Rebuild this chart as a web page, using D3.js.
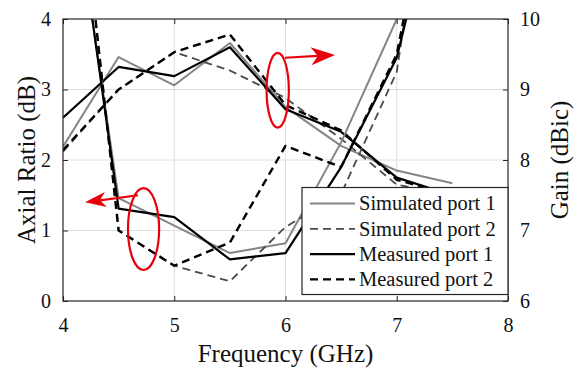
<!DOCTYPE html>
<html>
<head>
<meta charset="utf-8">
<script src="https://cdn.jsdelivr.net/npm/d3@7"></script>
<style>
  html, body { margin: 0; padding: 0; background: #fff; }
  svg { display: block; }
  svg text { font-family: "Liberation Serif", "DejaVu Serif", serif !important; fill: #111; }
</style>
</head>
<body>
<svg id="chart" width="579" height="369"></svg>
<script>
// Frequency samples (GHz); null means the series has no sample there
const freqGHz = [4.0, 4.5, 5.0, 5.5, 6.0, 6.5, 7.0, 7.1, 7.5];

// Axial ratio (dB), left axis
const arSimPort1  = [6.8, 1.46, 1.07, 0.68, 0.82, 2.25, 4.0, null, null];
const arSimPort2  = [8.2, 1.0, 0.5, 0.28, 1.05, 1.52, 3.25, 4.3, null];
const arMeasPort1 = [7.0, 1.31, 1.19, 0.59, 0.68, 1.9, 3.45, 4.1, null];
const arMeasPort2 = [8.2, 1.0, 0.5, 0.83, 2.2, 1.9, 3.5, 4.3, null];

// Gain (dBic), right axis
const gainSimPort1  = [8.19, 9.46, 9.06, 9.66, 8.75, 8.2, 7.85, null, 7.67];
const gainSimPort2  = [8.12, 9.0, 9.53, 9.27, 8.88, 8.3, 7.65, null, 7.5];
const gainMeasPort1 = [8.6, 9.32, 9.19, 9.6, 8.72, 8.4, 7.75, null, 7.5];
const gainMeasPort2 = [8.14, 9.0, 9.53, 9.78, 8.78, 8.42, 7.72, null, 7.5];

const seriesNames = ["Simulated port 1", "Simulated port 2", "Measured port 1", "Measured port 2"];
const xTicks = [4, 5, 6, 7, 8];
const arTicks = [0, 1, 2, 3, 4];
const gainTicks = [6, 7, 8, 9, 10];

// Line styles per series
const styles = [
  { color: "#858585", width: 2.0, dash: null },
  { color: "#4a4a4a", width: 1.8, dash: "8,5" },
  { color: "#000000", width: 2.2, dash: null },
  { color: "#000000", width: 2.4, dash: "8,5" }
];

const W = 579, H = 369;
const margin = { left: 63, right: 71, top: 19, bottom: 68 };
const x0 = margin.left, x1 = W - margin.right, y0 = H - margin.bottom, y1 = margin.top;
const serif = '"Liberation Serif", "DejaVu Serif", serif';

const svg = d3.select("#chart");
const x = d3.scaleLinear().domain([4, 8]).range([x0, x1]);
const yAR = d3.scaleLinear().domain([0, 4]).range([y0, y1]);
const yGain = d3.scaleLinear().domain([6, 10]).range([y0, y1]);

// grid
const grid = svg.append("g").attr("stroke", "#dedede").attr("stroke-width", 1);
xTicks.slice(1, -1).forEach(t => grid.append("line")
  .attr("x1", x(t)).attr("x2", x(t)).attr("y1", y0).attr("y2", y1));
arTicks.slice(1, -1).forEach(t => grid.append("line")
  .attr("x1", x0).attr("x2", x1).attr("y1", yAR(t)).attr("y2", yAR(t)));

// clip for data lines
svg.append("defs").append("clipPath").attr("id", "plotClip")
  .append("rect").attr("x", x0).attr("y", y1).attr("width", x1 - x0).attr("height", y0 - y1);

function points(vals) {
  return freqGHz.map((f, i) => [f, vals[i]]).filter(d => d[1] !== null);
}

const plot = svg.append("g").attr("clip-path", "url(#plotClip)");
const gainSets = [gainSimPort1, gainSimPort2, gainMeasPort1, gainMeasPort2];
const arSets = [arSimPort1, arSimPort2, arMeasPort1, arMeasPort2];

function drawSeries(sets, yScale) {
  const line = d3.line().x(d => x(d[0])).y(d => yScale(d[1]));
  sets.forEach((vals, i) => {
    const s = styles[i];
    plot.append("path")
      .datum(points(vals))
      .attr("d", line)
      .attr("fill", "none")
      .attr("stroke", s.color)
      .attr("stroke-width", s.width)
      .attr("stroke-dasharray", s.dash)
      .attr("stroke-linejoin", "round");
  });
}
drawSeries(gainSets, yGain);
drawSeries(arSets, yAR);

// axes
const fontSize = 20;
const axB = svg.append("g").attr("transform", `translate(0,${y0})`)
  .call(d3.axisBottom(x).tickValues(xTicks).tickSize(-5).tickPadding(17).tickFormat(d3.format("d")));
const axT = svg.append("g").attr("transform", `translate(0,${y1})`)
  .call(d3.axisTop(x).tickValues(xTicks).tickSize(-5).tickFormat(""));
const axL = svg.append("g").attr("transform", `translate(${x0},0)`)
  .call(d3.axisLeft(yAR).tickValues(arTicks).tickSize(-5).tickPadding(12).tickFormat(d3.format("d")));
const axR = svg.append("g").attr("transform", `translate(${x1},0)`)
  .call(d3.axisRight(yGain).tickValues(gainTicks).tickSize(-5).tickPadding(12).tickFormat(d3.format("d")));
[axB, axT, axL, axR].forEach(g => {
  g.attr("font-family", serif).attr("font-size", fontSize);
  g.select(".domain").remove();
  g.selectAll(".tick line").attr("stroke", "#262626").attr("stroke-width", 1);
  g.selectAll(".tick text").style("font-family", serif).attr("fill", "#111");
});

// frame
svg.append("rect").attr("x", x0).attr("y", y1).attr("width", x1 - x0).attr("height", y0 - y1)
  .attr("fill", "none").attr("stroke", "#262626").attr("stroke-width", 1.2);

// axis titles
svg.append("text").attr("x", (x0 + x1) / 2).attr("y", 362)
  .attr("text-anchor", "middle").attr("font-size", 25).style("font-family", serif).text("Frequency (GHz)");
svg.append("text").attr("transform", `translate(35,${(y0 + y1) / 2}) rotate(-90)`)
  .attr("text-anchor", "middle").attr("font-size", 25).style("font-family", serif).text("Axial Ratio (dB)");
svg.append("text").attr("transform", `translate(568,${(y0 + y1) / 2}) rotate(-90)`)
  .attr("text-anchor", "middle").attr("font-size", 25).style("font-family", serif).text("Gain (dBic)");

// red annotations: ellipses grouping each curve family, arrows pointing to its axis
const red = "#e8000b";
function arrow(fromF, fromV, toF, toV, headLen, headHalf) {
  const ax = x(fromF), ay = yAR(fromV), bx = x(toF), by = yAR(toV);
  const ang = Math.atan2(by - ay, bx - ax);
  const ux = Math.cos(ang), uy = Math.sin(ang), px = -uy, py = ux;
  const backX = bx - ux * headLen, backY = by - uy * headLen;
  const notchX = bx - ux * headLen * 0.72, notchY = by - uy * headLen * 0.72;
  svg.append("line").attr("x1", ax).attr("y1", ay).attr("x2", notchX).attr("y2", notchY)
    .attr("stroke", red).attr("stroke-width", 2.2);
  svg.append("path")
    .attr("d", `M${bx},${by} L${backX + px * headHalf},${backY + py * headHalf} L${notchX},${notchY} L${backX - px * headHalf},${backY - py * headHalf} Z`)
    .attr("fill", red);
}
function ellipse(cf, cv, rf, rv) {
  svg.append("ellipse")
    .attr("cx", x(cf)).attr("cy", yAR(cv))
    .attr("rx", x(4 + rf) - x(4)).attr("ry", yAR(0) - yAR(rv))
    .attr("fill", "none").attr("stroke", red).attr("stroke-width", 2.2);
}
ellipse(5.93, 2.99, 0.1, 0.53);
arrow(5.995, 3.45, 6.445, 3.49, 24, 9);
ellipse(4.724, 1.02, 0.14, 0.58);
arrow(4.674, 1.50, 4.198, 1.40, 21, 7.5);

// legend
const lg = svg.append("g");
lg.append("rect").attr("x", 302).attr("y", 187.5).attr("width", x1 - 302).attr("height", 107)
  .attr("fill", "#fff").attr("stroke", "#262626").attr("stroke-width", 1.2);
seriesNames.forEach((name, i) => {
  const yy = 203.5 + i * 25.3;
  const s = styles[i];
  lg.append("line").attr("x1", 310).attr("x2", 355).attr("y1", yy).attr("y2", yy)
    .attr("stroke", s.color).attr("stroke-width", s.width).attr("stroke-dasharray", s.dash);
  lg.append("text").attr("x", 359).attr("y", yy).attr("dy", "0.33em")
    .attr("font-size", 20.5).style("font-family", serif).text(name);
});
</script>
</body>
</html>
